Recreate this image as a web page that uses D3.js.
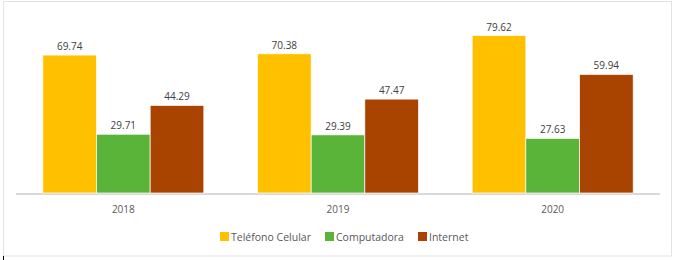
<!DOCTYPE html>
<html>
<head>
<meta charset="utf-8">
<script src="https://cdn.jsdelivr.net/npm/d3@7"></script>
<style>
  html, body { margin: 0; padding: 0; background: #fff; }
  svg { display: block; font-family: 'Open Sans', 'Noto Sans', sans-serif; }
</style>
</head>
<body>
<svg width="674" height="260"></svg>
<script>
const years = ['2018', '2019', '2020'];
const seriesNames = ['Teléfono Celular', 'Computadora', 'Internet'];
const telefono = [69.74, 70.38, 79.62];
const computadora = [29.71, 29.39, 27.63];
const internet = [44.29, 47.47, 59.94];
const colors = ['#ffc000', '#5ab43a', '#a84300'];

const seriesValues = [telefono, computadora, internet];

const svg = d3.select('svg');

// outer frame
svg.append('rect')
  .attr('x', 3.5).attr('y', 1.5)
  .attr('width', 668).attr('height', 254.5)
  .attr('fill', 'none')
  .attr('stroke', '#e3e3e3');

svg.append('line')
  .attr('x1', 3.5).attr('x2', 3.5)
  .attr('y1', 256).attr('y2', 260)
  .attr('stroke', '#000');

const x = d3.scaleBand()
  .domain(years)
  .range([16, 660])
  .paddingInner(0.25)
  .paddingOuter(0.125);

const xs = d3.scaleBand()
  .domain(seriesNames)
  .range([0, x.bandwidth()]);

const y = d3.scaleLinear()
  .domain([0, 90])
  .range([193, 15]);

// baseline
svg.append('line')
  .attr('x1', 16).attr('x2', 660)
  .attr('y1', 194).attr('y2', 194)
  .attr('stroke', '#d9d9d9')
  .attr('stroke-width', 2);

const groups = svg.selectAll('g.year')
  .data(years)
  .enter()
  .append('g')
  .attr('class', 'year')
  .attr('transform', d => `translate(${ x(d) },0)`);

const cells = groups.selectAll('g.cell')
  .data((d, i) => seriesNames.map((s, j) => ({ series: s, value: seriesValues[j][i], color: colors[j] })))
  .enter()
  .append('g')
  .attr('class', 'cell');

cells.append('rect')
  .attr('x', d => xs(d.series))
  .attr('width', xs.bandwidth())
  .attr('y', d => y(d.value))
  .attr('height', d => y(0) - y(d.value))
  .attr('fill', d => d.color)
  .attr('stroke', '#fff')
  .attr('stroke-width', 0.7);

// value labels with white background
cells.each(function(d) {
  const g = d3.select(this);
  const cx = xs(d.series) + xs.bandwidth() / 2;
  const ty = y(d.value) - 5;
  const t = g.append('text')
    .attr('x', cx)
    .attr('y', ty)
    .attr('text-anchor', 'middle')
    .attr('font-size', 10)
    .attr('fill', '#404040')
    .text(d.value.toFixed(2));
  const bb = t.node().getBBox();
  g.insert('rect', 'text')
    .attr('x', bb.x - 3)
    .attr('y', bb.y)
    .attr('width', bb.width + 6)
    .attr('height', y(d.value) - bb.y - 1)
    .attr('fill', '#fff');
});

// category labels
svg.selectAll('text.cat')
  .data(years)
  .enter()
  .append('text')
  .attr('class', 'cat')
  .attr('x', d => x(d) + x.bandwidth() / 2)
  .attr('y', 213)
  .attr('text-anchor', 'middle')
  .attr('font-size', 10)
  .attr('fill', '#595959')
  .text(d => d);

// legend
const legendX = [220, 325, 418];
const legend = svg.selectAll('g.legend')
  .data(seriesNames)
  .enter()
  .append('g')
  .attr('class', 'legend')
  .attr('transform', (d, i) => `translate(${ legendX[i] },232)`);

legend.append('rect')
  .attr('width', 9).attr('height', 9)
  .attr('fill', (d, i) => colors[i]);

legend.append('text')
  .attr('x', 11)
  .attr('y', 8.5)
  .attr('font-size', 10.5)
  .attr('fill', '#595959')
  .text(d => d);
</script>
</body>
</html>
